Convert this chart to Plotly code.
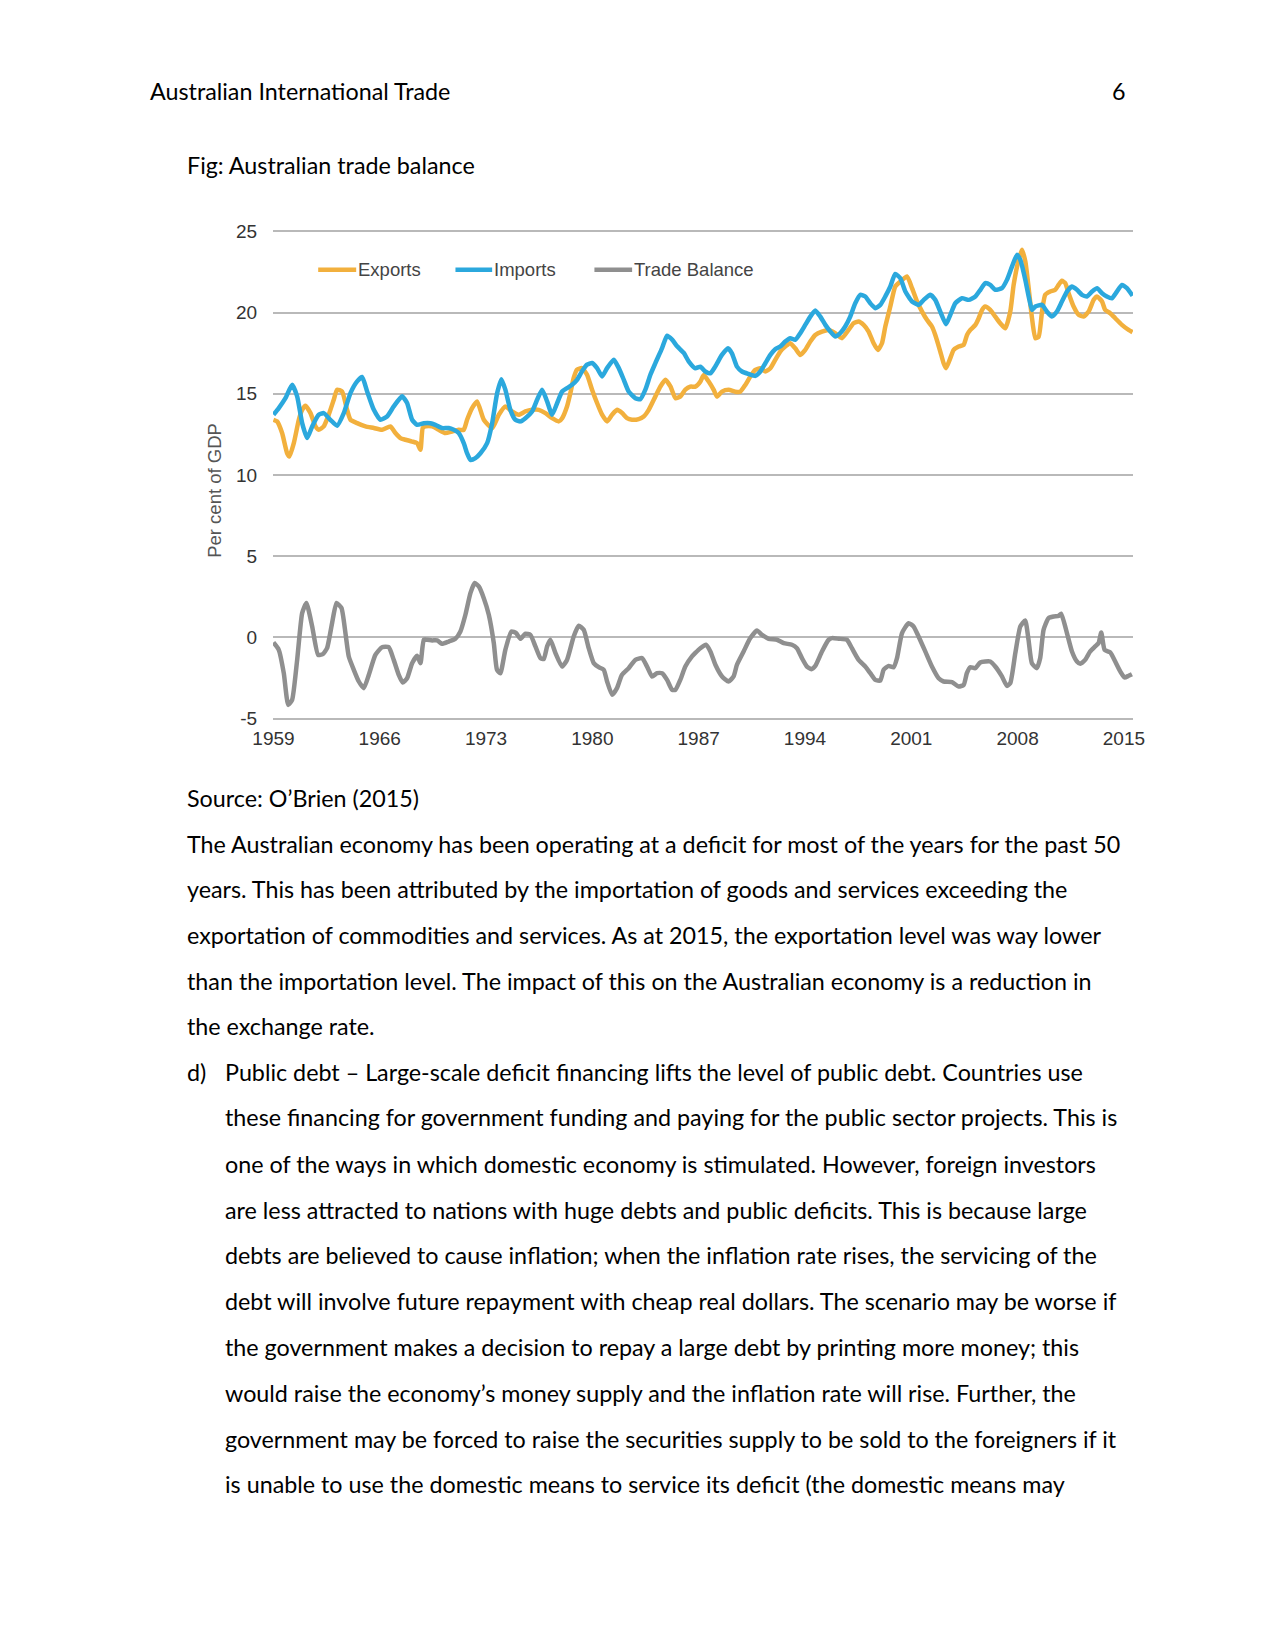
import plotly.graph_objects as go

# ---------------- data (per cent of GDP) ----------------
tb_years = [1959.00,1959.35,1959.68,1959.97,1960.23,1960.56,1960.89,1961.17,1961.55,1961.94,
            1962.25,1962.53,1962.86,1963.15,1963.48,1963.74,1963.96,1964.29,1964.62,1964.95,
            1965.28,1965.71,1966.15,1966.59,1966.92,1967.25,1967.51,1967.80,1968.13,1968.46,
            1968.68,1968.90,1969.12,1969.45,1969.78,1970.10,1970.54,1970.98,1971.31,1971.64,
            1971.97,1972.25,1972.52,1972.85,1973.18,1973.51,1973.72,1973.94,1974.27,1974.67,
            1974.98,1975.26,1975.59,1975.92,1976.25,1976.58,1976.80,1977.02,1977.24,1977.57,
            1978.00,1978.33,1978.77,1979.10,1979.43,1979.76,1980.09,1980.42,1980.75,1980.97,
            1981.30,1981.62,1981.95,1982.39,1982.83,1983.27,1983.60,1983.93,1984.26,1984.59,
            1984.92,1985.25,1985.47,1985.79,1986.12,1986.56,1986.78,1987.11,1987.48,1987.77,
            1988.10,1988.54,1988.97,1989.30,1989.52,1989.96,1990.40,1990.84,1991.17,1991.61,
            1992.16,1992.60,1993.14,1993.47,1993.80,1994.13,1994.42,1994.68,1995.12,1995.56,
            1995.78,1996.22,1996.76,1997.09,1997.53,1997.97,1998.30,1998.63,1998.96,1999.18,
            1999.51,1999.84,2000.06,2000.39,2000.82,2001.15,2001.48,2001.92,2002.36,2002.80,
            2003.13,2003.68,2004.12,2004.45,2004.66,2004.88,2005.21,2005.54,2005.87,2006.20,
            2006.53,2006.97,2007.30,2007.52,2007.85,2008.18,2008.50,2008.72,2008.94,2009.27,
            2009.49,2009.71,2010.04,2010.37,2010.70,2010.87,2011.25,2011.58,2011.91,2012.13,
            2012.45,2012.78,2013.11,2013.33,2013.51,2013.73,2014.10,2014.43,2014.76,2015.04,
            2015.31,2015.53]
tb_vals = [-0.31,-0.76,-2.20,-4.15,-3.84,-1.38,1.50,2.12,0.68,-1.07,
           -1.03,-0.66,0.88,2.12,1.81,0.27,-1.17,-1.99,-2.71,-3.12,
           -2.30,-1.07,-0.60,-0.60,-1.38,-2.30,-2.77,-2.51,-1.58,-1.13,
           -1.58,-0.14,-0.14,-0.18,-0.18,-0.39,-0.25,-0.08,0.37,1.40,
           2.73,3.35,3.14,2.42,1.40,-0.35,-1.99,-2.20,-0.76,0.37,
           0.27,-0.08,0.23,0.16,-0.55,-1.27,-1.33,-0.55,-0.14,-0.97,
           -1.79,-1.38,0.06,0.72,0.47,-0.66,-1.58,-1.83,-1.99,-2.71,
           -3.53,-3.12,-2.30,-1.89,-1.38,-1.27,-1.79,-2.40,-2.20,-2.20,
           -2.61,-3.22,-3.22,-2.61,-1.79,-1.17,-0.95,-0.66,-0.45,-0.86,
           -1.68,-2.40,-2.71,-2.40,-1.68,-0.86,-0.04,0.43,0.16,-0.08,
           -0.14,-0.35,-0.45,-0.66,-1.27,-1.79,-1.95,-1.75,-0.86,-0.14,
           -0.04,-0.08,-0.14,-0.66,-1.38,-1.79,-2.20,-2.61,-2.65,-1.99,
           -1.75,-1.83,-1.27,0.27,0.88,0.68,0.06,-0.86,-1.79,-2.51,
           -2.71,-2.75,-3.02,-2.92,-2.20,-1.83,-1.89,-1.54,-1.48,-1.48,
           -1.79,-2.40,-2.98,-2.81,-0.97,0.68,1.05,-0.14,-1.58,-1.89,
           -1.27,0.47,1.19,1.29,1.33,1.46,0.27,-0.86,-1.48,-1.62,
           -1.38,-0.86,-0.55,-0.35,0.31,-0.76,-0.92,-1.48,-2.09,-2.46,
           -2.36,-2.26]

imp_years = [1959.00,1959.35,1959.79,1960.23,1960.56,1960.89,1961.22,1961.55,1961.98,1962.31,
             1962.75,1963.19,1963.63,1964.07,1964.51,1964.84,1965.17,1965.61,1966.04,1966.48,
             1966.92,1967.47,1967.80,1968.13,1968.46,1968.90,1969.34,1969.66,1970.10,1970.54,
             1970.87,1971.20,1971.53,1971.75,1971.97,1972.30,1972.63,1973.07,1973.40,1973.73,
             1974.01,1974.27,1974.60,1974.93,1975.26,1975.59,1976.03,1976.36,1976.69,1977.02,
             1977.35,1977.68,1978.01,1978.33,1978.66,1978.99,1979.32,1979.65,1979.98,1980.31,
             1980.64,1980.97,1981.41,1981.74,1982.07,1982.39,1982.83,1983.16,1983.49,1983.82,
             1984.15,1984.59,1984.92,1985.25,1985.58,1986.02,1986.34,1986.78,1987.11,1987.44,
             1987.77,1988.09,1988.53,1988.93,1989.19,1989.52,1989.85,1990.29,1990.73,1991.06,
             1991.39,1991.72,1992.04,1992.37,1992.70,1993.03,1993.36,1993.69,1994.02,1994.35,
             1994.68,1995.01,1995.34,1995.67,1995.99,1996.32,1996.65,1996.98,1997.31,1997.64,
             1997.97,1998.30,1998.63,1998.96,1999.29,1999.62,1999.94,2000.28,2000.61,2001.05,
             2001.49,2001.82,2002.25,2002.58,2002.91,2003.29,2003.57,2003.90,2004.34,2004.78,
             2005.22,2005.55,2005.87,2006.20,2006.53,2006.97,2007.30,2007.63,2007.96,2008.18,
             2008.51,2008.73,2008.95,2009.17,2009.61,2009.93,2010.26,2010.59,2010.92,2011.25,
             2011.58,2011.91,2012.24,2012.57,2012.90,2013.23,2013.56,2013.88,2014.21,2014.54,
             2014.87,2015.20,2015.57]
imp_vals = [13.71,14.12,14.73,15.55,14.84,13.19,12.27,12.99,13.71,13.81,
            13.40,13.03,13.81,15.04,15.76,16.03,15.14,14.01,13.40,13.60,
            14.22,14.84,14.43,13.40,13.09,13.19,13.19,13.09,12.89,12.89,
            12.78,12.58,11.96,11.34,10.93,11.04,11.34,11.96,13.19,15.04,
            15.90,15.25,14.01,13.40,13.30,13.50,13.91,14.63,15.25,14.53,
            13.71,14.43,15.14,15.35,15.55,15.86,16.38,16.79,16.89,16.58,
            16.07,16.58,17.09,16.58,15.86,15.14,14.73,14.67,15.25,16.17,
            16.89,17.81,18.57,18.33,17.92,17.51,17.00,16.57,16.67,16.37,
            16.26,16.67,17.39,17.80,17.49,16.67,16.37,16.22,16.10,16.37,
            16.88,17.39,17.74,17.91,18.21,18.42,18.32,18.73,19.24,19.75,
            20.12,19.75,19.24,18.83,18.52,18.73,19.14,19.75,20.57,21.09,
            20.99,20.57,20.27,20.47,20.99,21.60,22.38,22.11,21.29,20.68,
            20.47,20.78,21.09,20.78,20.06,19.28,19.86,20.57,20.88,20.78,
            20.99,21.40,21.81,21.70,21.40,21.50,22.01,22.83,23.55,23.24,
            22.01,20.99,20.16,20.37,20.47,20.06,19.75,20.06,20.68,21.29,
            21.60,21.40,21.09,20.99,21.29,21.50,21.19,20.99,20.88,21.29,
            21.70,21.50,21.03]

exp_years = [1959.00,1959.24,1959.57,1959.90,1960.05,1960.34,1960.67,1960.89,1961.11,1961.44,
             1961.77,1961.98,1962.31,1962.64,1962.97,1963.19,1963.52,1963.85,1964.07,1964.51,
             1965.06,1965.61,1966.15,1966.70,1967.03,1967.36,1967.69,1968.13,1968.46,1968.68,
             1968.83,1969.01,1969.45,1969.88,1970.32,1970.76,1971.20,1971.53,1971.75,1972.08,
             1972.41,1972.85,1973.40,1973.84,1974.27,1974.71,1975.15,1975.59,1976.03,1976.47,
             1976.91,1977.35,1977.79,1978.01,1978.33,1978.55,1978.77,1978.99,1979.32,1979.65,
             1979.98,1980.31,1980.64,1980.97,1981.30,1981.63,1981.96,1982.28,1982.61,1983.05,
             1983.38,1983.71,1984.15,1984.48,1984.81,1985.14,1985.47,1985.80,1986.12,1986.45,
             1986.78,1987.11,1987.33,1987.66,1987.99,1988.20,1988.53,1988.97,1989.41,1989.74,
             1990.07,1990.40,1990.73,1991.06,1991.39,1991.72,1992.04,1992.37,1992.70,1993.03,
             1993.36,1993.69,1994.02,1994.35,1994.68,1995.12,1995.56,1995.99,1996.43,1996.87,
             1997.20,1997.53,1997.86,1998.19,1998.52,1998.80,1999.07,1999.29,1999.62,1999.94,
             2000.28,2000.72,2001.05,2001.38,2001.71,2002.03,2002.36,2002.58,2002.91,2003.13,
             2003.29,2003.57,2003.79,2004.12,2004.45,2004.67,2004.89,2005.22,2005.44,2005.66,
             2005.87,2006.20,2006.53,2006.86,2007.19,2007.52,2007.74,2008.07,2008.29,2008.51,
             2008.73,2008.95,2009.17,2009.39,2009.61,2009.82,2010.15,2010.48,2010.70,2010.92,
             2011.14,2011.36,2011.69,2012.02,2012.35,2012.68,2013.01,2013.23,2013.56,2013.77,
             2014.10,2014.43,2014.87,2015.31,2015.57]
exp_vals = [13.40,13.30,12.58,11.34,11.14,11.96,13.40,14.01,14.26,13.81,
            12.99,12.78,12.99,13.71,14.63,15.25,15.14,14.01,13.40,13.19,
            12.99,12.89,12.78,12.99,12.58,12.27,12.17,12.06,11.96,11.55,
            12.89,12.99,12.99,12.78,12.58,12.68,12.78,12.78,13.40,14.12,
            14.53,13.40,12.88,13.71,14.22,13.91,13.71,13.91,14.01,14.01,
            13.81,13.50,13.30,13.50,14.22,15.04,15.97,16.48,16.58,16.17,
            15.25,14.43,13.71,13.30,13.71,14.01,13.81,13.50,13.40,13.44,
            13.60,14.01,14.84,15.45,15.86,15.45,14.73,14.84,15.25,15.44,
            15.44,15.75,16.16,15.75,15.24,14.83,15.13,15.24,15.13,15.13,
            15.54,16.06,16.47,16.57,16.37,16.57,17.08,17.60,17.91,18.11,
            17.80,17.39,17.70,18.21,18.62,18.83,18.93,18.73,18.42,18.93,
            19.34,19.45,19.24,18.83,18.11,17.70,18.11,19.14,20.37,21.60,
            21.91,22.22,21.50,20.68,20.06,19.55,19.14,18.62,17.60,16.88,
            16.57,17.19,17.70,17.91,18.01,18.62,18.93,19.24,19.65,20.16,
            20.37,20.16,19.75,19.34,19.03,20.06,21.70,23.24,23.86,23.14,
            21.50,19.65,18.42,18.52,20.06,21.09,21.29,21.40,21.70,21.95,
            21.81,21.19,20.37,19.86,19.75,20.06,20.78,20.99,20.68,20.16,
            19.96,19.65,19.24,18.93,18.79]

x_tick_years = [1959, 1966, 1973, 1980, 1987, 1994, 2001, 2008, 2015]
y_ticks = [-5, 0, 5, 10, 15, 20, 25]
y_tick_labels = ["-5", "0", "5", "10", "15", "20", "25"]
series_names = ["Exports", "Imports", "Trade Balance"]

header_text = "Australian International Trade"
page_number = "6"
fig_caption = "Fig: Australian trade balance"
source_text = "Source: O\u2019Brien (2015)"
para_lines = [
    "The Australian economy has been operating at a deficit for most of the years for the past 50",
    "years. This has been attributed by the importation of goods and services exceeding the",
    "exportation of commodities and services. As at 2015, the exportation level was way lower",
    "than the importation level. The impact of this on the Australian economy is a reduction in",
    "the exchange rate.",
]
list_marker = "d)"
list_lines = [
    "Public debt \u2013 Large-scale deficit financing lifts the level of public debt. Countries use",
    "these financing for government funding and paying for the public sector projects. This is",
    "one of the ways in which domestic economy is stimulated. However, foreign investors",
    "are less attracted to nations with huge debts and public deficits. This is because large",
    "debts are believed to cause inflation; when the inflation rate rises, the servicing of the",
    "debt will involve future repayment with cheap real dollars. The scenario may be worse if",
    "the government makes a decision to repay a large debt by printing more money; this",
    "would raise the economy\u2019s money supply and the inflation rate will rise. Further, the",
    "government may be forced to raise the securities supply to be sold to the foreigners if it",
    "is unable to use the domestic means to service its deficit (the domestic means may",
]

# ---------------- styles / layout ----------------
W, H = 1275, 1650
OFF = 8  # page body offset in the browser
Y_PAD = 0.08
PX_PER_UNIT = 16.233
# target screen positions of plot area
SCR_L, SCR_R = 272.5, 1132.7
SCR_T = 231.7 - Y_PAD * PX_PER_UNIT
SCR_B = 718.7 + Y_PAD * PX_PER_UNIT
ML = SCR_L - OFF
MT = SCR_T - OFF
MR = W - (SCR_R - OFF)
MB = H - (SCR_B - OFF)
PW, PH = W - ML - MR, H - MT - MB

C_EXP = "#F2B03D"
C_IMP = "#2BA8DD"
C_TB = "#8F8F8F"
GRID = "#B9B9B9"
CHART_FONT = "Liberation Sans, Arial, sans-serif"
DOC_FONT = "Lato, Carlito, Calibri, sans-serif"


def px(x):
    return (x - OFF - ML) / PW


def py(y):
    return 1 - (y - OFF - MT) / PH


fig = go.Figure()
line_kw = dict(width=4.5, shape="spline", smoothing=0.5)
fig.add_trace(go.Scatter(x=tb_years, y=tb_vals, mode="lines", name=series_names[2],
                         line=dict(color=C_TB, **line_kw)))
fig.add_trace(go.Scatter(x=exp_years, y=exp_vals, mode="lines", name=series_names[0],
                         line=dict(color=C_EXP, **line_kw)))
fig.add_trace(go.Scatter(x=imp_years, y=imp_vals, mode="lines", name=series_names[1],
                         line=dict(color=C_IMP, **line_kw)))

fig.update_layout(
    width=W, height=H,
    margin=dict(l=ML, r=MR, t=MT, b=MB, pad=0),
    paper_bgcolor="white", plot_bgcolor="white",
    showlegend=False,
    xaxis=dict(range=[1958.97, 2015.60], tickvals=x_tick_years,
               ticktext=[str(v) for v in x_tick_years],
               showgrid=False, zeroline=False, showline=False,
               ticks="outside", ticklen=1, tickcolor="rgba(0,0,0,0)",
               tickfont=dict(family=CHART_FONT, size=19, color="#333333")),
    yaxis=dict(range=[-5 - Y_PAD, 25 + Y_PAD], tickvals=y_ticks, ticktext=y_tick_labels,
               showgrid=True, gridcolor=GRID,
               gridwidth=1.6, zeroline=False, showline=False,
               ticks="outside", ticklen=11, tickcolor="rgba(0,0,0,0)",
               tickfont=dict(family=CHART_FONT, size=19, color="#333333")),
)

annotations = []
shapes = []

# y axis title
annotations.append(dict(x=px(214.5), y=py(491), xref="paper", yref="paper",
                        text="Per cent of GDP", textangle=-90, showarrow=False,
                        xanchor="center", yanchor="middle",
                        font=dict(family=CHART_FONT, size=18.5, color="#555555")))

# legend (drawn manually to match placement)
legend_items = [
    (series_names[0], C_EXP, 317.7, 355.7),
    (series_names[1], C_IMP, 455.0, 491.7),
    (series_names[2], C_TB, 594.0, 631.7),
]
for name, col, x0, x1 in legend_items:
    shapes.append(dict(type="line", xref="paper", yref="paper",
                       x0=px(x0), x1=px(x1), y0=py(270), y1=py(270),
                       line=dict(color=col, width=4.5)))
    annotations.append(dict(x=px(x1), y=py(270), xref="paper", yref="paper",
                            text=name, showarrow=False, xanchor="left", yanchor="middle",
                            font=dict(family=CHART_FONT, size=18.5, color="#444444")))

# document text
DOC_SIZE = 23.3
TXT_DX = 3


def doc_text(t, x, y, anchor="left"):
    dx = -TXT_DX if anchor == "left" else TXT_DX
    annotations.append(dict(x=px(x + dx), y=py(y), xref="paper", yref="paper", text=t,
                            showarrow=False, xanchor=anchor, yanchor="middle",
                            font=dict(family=DOC_FONT, size=DOC_SIZE, color="#000000")))


doc_text(header_text, 150, 91.5)
doc_text(page_number, 1124.6, 91.5, anchor="right")
doc_text(fig_caption, 187, 165)
doc_text(source_text, 187, 797.5)
para_y = [843.5, 889.0, 934.5, 980.5, 1026.0]
for t, y in zip(para_lines, para_y):
    doc_text(t, 187, y)
list_y = [1072, 1117, 1163.5, 1209.5, 1255, 1300.5, 1346.5, 1392, 1438, 1483.5]
doc_text(list_marker, 187, list_y[0])
for t, y in zip(list_lines, list_y):
    doc_text(t, 225, y)

fig.update_layout(annotations=annotations, shapes=shapes)
fig.write_html("out.html")
